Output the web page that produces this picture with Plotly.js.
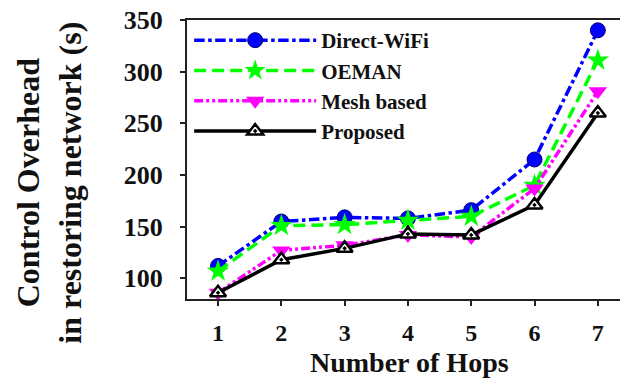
<!DOCTYPE html>
<html>
<head>
<meta charset="utf-8">
<script src="https://cdn.plot.ly/plotly-3.0.1.min.js"></script>
<style>
html,body{margin:0;padding:0;background:#fff;}
#chart{width:620px;height:383px;}
</style>
</head>
<body>
<div id="chart"></div>
<script>
const hops = [1, 2, 3, 4, 5, 6, 7];
const directWiFi = [112, 155, 159, 158, 166, 215, 340];
const oeman = [107, 151, 152, 156, 160, 190, 311];
const meshBased = [86, 127, 132, 142, 140, 187, 281];
const proposed = [86, 118, 129, 143, 142, 171, 260];
const seriesNames = ['Direct-WiFi', 'OEMAN', 'Mesh based', 'Proposed'];
const yTickVals = [100, 150, 200, 250, 300, 350];
const xTitle = 'Number of Hops';
const yTitle = 'Control Overhead<br>in restoring network (s)';

const FONT = '"Liberation Serif", "Times New Roman", serif';

const traces = [
  {
    x: hops, y: directWiFi, name: seriesNames[0], mode: 'lines+markers',
    line: {color: '#0000ff', width: 3.5, dash: 'dashdot'},
    marker: {symbol: 'circle', size: 15, color: '#0000ff', line: {color: '#00006e', width: 1}}
  },
  {
    x: hops, y: oeman, name: seriesNames[1], mode: 'lines+markers',
    line: {color: '#00ff00', width: 3.5, dash: '12px,6px'},
    marker: {symbol: 'star', size: 17, color: '#00ff00', line: {width: 0}}
  },
  {
    x: hops, y: meshBased, name: seriesNames[2], mode: 'lines+markers',
    line: {color: '#ff00ff', width: 3.5, dash: '9px,3px,3px,3px,3px,3px'},
    marker: {symbol: 'triangle-down', size: 16, color: '#ff00ff', line: {width: 0}}
  },
  {
    x: hops, y: proposed, name: seriesNames[3], mode: 'lines+markers',
    line: {color: '#000000', width: 3.5},
    marker: {symbol: 'triangle-up-dot', size: 14, color: '#ffffff', line: {color: '#000000', width: 2.5}}
  }
];

const layout = {
  width: 620, height: 383,
  margin: {l: 187, r: 0, t: 20, b: 84, pad: 0},
  paper_bgcolor: '#ffffff', plot_bgcolor: '#ffffff',
  font: {family: FONT, color: '#111111', size: 24, weight: 'bold'},
  showlegend: true,
  legend: {
    x: 0.005, y: 1.0, xanchor: 'left', yanchor: 'top',
    bgcolor: 'rgba(255,255,255,0)', borderwidth: 0,
    font: {family: FONT, size: 21, color: '#111111', weight: 'bold'},
    itemwidth: 122, tracegroupgap: 0
  },
  xaxis: {
    range: [0.51, 7.35], tickvals: hops, ticktext: hops.map(String),
    showgrid: false, zeroline: false,
    showline: true, linecolor: '#222222', linewidth: 2, mirror: true,
    ticks: 'outside', ticklen: 5, tickwidth: 2, tickcolor: '#222222',
    tickfont: {family: FONT, size: 24, color: '#111111', weight: 'bold'},
    ticklabelstandoff: 6
  },
  yaxis: {
    range: [80, 350], tickvals: yTickVals,
    showgrid: false, zeroline: false,
    showline: true, linecolor: '#222222', linewidth: 2, mirror: false,
    ticks: 'outside', ticklen: 5, tickwidth: 2, tickcolor: '#222222',
    tickfont: {family: FONT, size: 26, color: '#111111', weight: 'bold'},
    ticklabelstandoff: 12
  },
  annotations: [
    {
      text: xTitle, xref: 'paper', yref: 'paper', x: 0.515, y: -0.226,
      xanchor: 'center', yanchor: 'middle', showarrow: false,
      font: {family: FONT, size: 28, color: '#111111', weight: 'bold'}
    },
    {
      text: yTitle, xref: 'paper', yref: 'paper', x: -0.318, y: 0.418,
      xanchor: 'center', yanchor: 'middle', showarrow: false, textangle: -90,
      font: {family: FONT, size: 32, color: '#111111', weight: 'bold'}
    }
  ]
};

Plotly.newPlot('chart', traces, layout, {displayModeBar: false, staticPlot: true});
</script>
</body>
</html>
